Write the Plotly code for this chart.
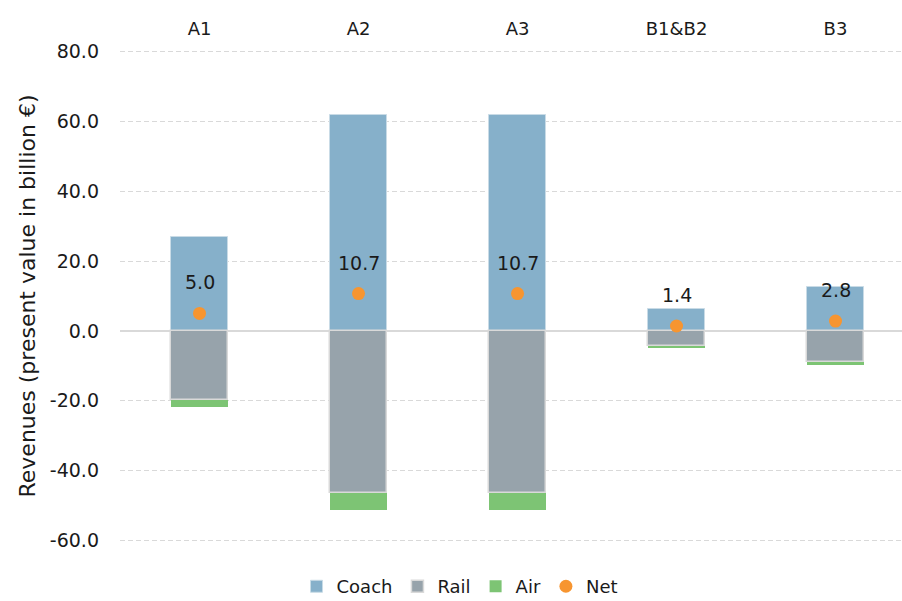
import plotly.graph_objects as go

# Revenue components per scenario (present value, billion €)
scenarios = ["A1", "A2", "A3", "B1&B2", "B3"]
coach = [26.8, 62.0, 62.0, 6.2, 12.5]
rail = [-19.7, -46.4, -46.4, -4.4, -8.8]
air = [-2.1, -4.9, -4.9, -0.4, -0.9]
net = [5.0, 10.7, 10.7, 1.4, 2.8]

y_ticks = [80, 60, 40, 20, 0, -20, -40, -60]
y_tick_labels = ["80.0", "60.0", "40.0", "20.0", "0.0", "-20.0", "-40.0", "-60.0"]

FONT = "'DejaVu Sans', sans-serif"
TXT = "#1a1a1a"
BAR_W = 0.36

fig = go.Figure()
fig.add_trace(go.Bar(
    name="Coach", x=scenarios, y=coach, width=BAR_W,
    marker=dict(color="#86b0ca", line=dict(color="#c9dbe6", width=1)),
))
fig.add_trace(go.Bar(
    name="Rail", x=scenarios, y=rail, width=BAR_W,
    marker=dict(color="#97a3ab", line=dict(color="#d9d9d9", width=1.5)),
))
fig.add_trace(go.Bar(
    name="Air", x=scenarios, y=air, width=BAR_W,
    marker=dict(color="#7dc474", line=dict(width=0)),
))
fig.add_trace(go.Scatter(
    name="Net", x=scenarios, y=net, mode="markers",
    marker=dict(color="#f79530", size=13, symbol="circle"),
))

# Net value labels above the markers
for s, v in zip(scenarios, net):
    fig.add_annotation(
        x=s, y=v, text=f"{v:.1f}", showarrow=False, yshift=31,
        font=dict(family=FONT, size=19, color=TXT),
    )

fig.update_layout(
    width=902, height=601,
    margin=dict(l=120, r=0, t=50, b=59),
    barmode="relative",
    bargap=0,
    plot_bgcolor="white",
    paper_bgcolor="white",
    font=dict(family=FONT, size=18, color=TXT),
    showlegend=True,
    legend=dict(
        orientation="h",
        xref="container", x=0.51, xanchor="center",
        yref="container", y=0.024, yanchor="middle",
        font=dict(family=FONT, size=18, color=TXT),
        traceorder="normal", itemwidth=30, tracegroupgap=0,
    ),
    xaxis=dict(
        side="top", range=[-0.5, 4.418], showgrid=False, showline=False,
        ticks="", tickfont=dict(family=FONT, size=18, color=TXT),
        ticklabelstandoff=10, fixedrange=True,
    ),
    yaxis=dict(
        range=[-60.5, 80.5], tickvals=y_ticks, ticktext=y_tick_labels,
        showgrid=True, gridcolor="#d9d9d9", griddash="5px,3px", gridwidth=1,
        zeroline=True, zerolinecolor="#d9d9d9", zerolinewidth=2,
        showline=False, ticks="", ticklabelstandoff=20,
        tickfont=dict(family=FONT, size=19, color=TXT),
        title=dict(text="Revenues (present value in billion €)",
                   font=dict(family=FONT, size=22, color=TXT), standoff=8),
    ),
)

fig.write_html("out.html")
